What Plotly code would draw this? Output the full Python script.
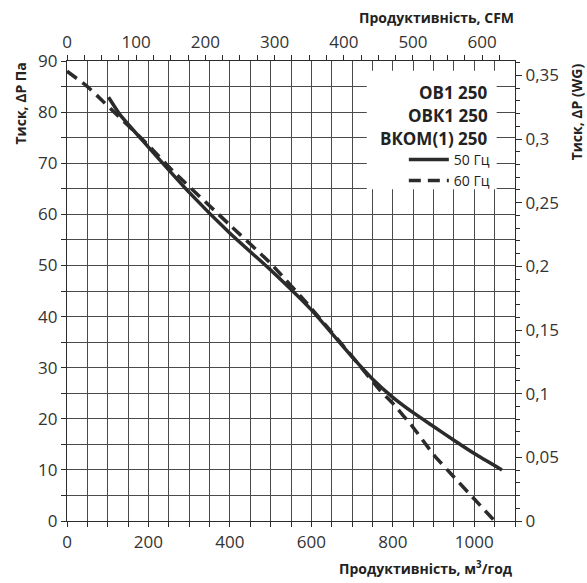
import plotly.graph_objects as go

# air flow (m3/h) and pressure (Pa)
flow_50hz = [102, 131, 196, 300, 400, 500, 600, 700, 750, 800, 850, 900, 950, 1000, 1068]
pres_50hz = [82.9, 79.4, 73.5, 64.3, 56.3, 49.1, 41.3, 32.1, 27.8, 24.2, 21.2, 18.5, 15.8, 13.2, 10.0]

flow_60hz = [0, 50, 90, 125, 200, 260, 400, 500, 600, 700, 768, 800, 850, 900, 950, 1000, 1050]
pres_60hz = [88.0, 85.0, 82.0, 79.3, 73.5, 68.5, 57.9, 50.4, 41.6, 32.2, 25.6, 23.0, 18.3, 13.0, 8.6, 4.3, 0.0]

models = ['ОВ1 250', 'ОВК1 250', 'ВКОМ(1) 250']
series_names = ['50 Гц', '60 Гц']

m3h_ticks = [0, 200, 400, 600, 800, 1000]
cfm_ticks = [0, 100, 200, 300, 400, 500, 600]
pa_ticks = [0, 10, 20, 30, 40, 50, 60, 70, 80, 90]
wg_ticks = [0, 0.05, 0.1, 0.15, 0.2, 0.25, 0.3, 0.35]
wg_labels = ['0', '0,05', '0,1', '0,15', '0,2', '0,25', '0,3', '0,35']

M3H_PER_CFM = 1.69901
PA_PER_WG = 249.089
X_MAX = 1100
Y_MAX = 90

INK = '#2b2b2b'
GRID = '#4a4a4a'
FONT = 'Open Sans'

fig = go.Figure()

fig.add_trace(go.Scatter(x=flow_50hz, y=pres_50hz, mode='lines', name=series_names[0],
                         line=dict(color=INK, width=3.5, shape='spline', smoothing=0.5)))
fig.add_trace(go.Scatter(x=flow_60hz, y=pres_60hz, mode='lines', name=series_names[1],
                         line=dict(color=INK, width=3.5, dash='12px,7px', shape='spline', smoothing=0.5)))

# invisible trace so the CFM / WG axes get drawn
fig.add_trace(go.Scatter(x=[q / M3H_PER_CFM for q in flow_60hz],
                         y=[p / PA_PER_WG for p in pres_60hz],
                         xaxis='x2', yaxis='y2', mode='lines', opacity=0,
                         showlegend=False, hoverinfo='skip'))

tick_font = dict(family=FONT, size=17, color='#333')
title_font = dict(family=FONT, size=14, color='#222', weight='bold')

fig.update_layout(
    width=587, height=583,
    margin=dict(l=67, r=72, t=61, b=62),
    plot_bgcolor='white', paper_bgcolor='white',
    font=dict(family=FONT, color='#222'),
    xaxis=dict(range=[0, X_MAX], tickvals=m3h_ticks, tickfont=tick_font,
               ticks='outside', ticklen=5, tickcolor=INK,
               showgrid=True, gridcolor=GRID, gridwidth=1,
               minor=dict(dtick=50, ticks='outside', ticklen=5, tickcolor=INK,
                          showgrid=True, gridcolor=GRID, gridwidth=1),
               showline=True, linecolor=INK, linewidth=1.2, mirror=True,
               zeroline=False, fixedrange=True, automargin=False),
    yaxis=dict(range=[0, Y_MAX], tickvals=pa_ticks, tickfont=tick_font,
               ticks='outside', ticklen=5, tickcolor=INK,
               showgrid=True, gridcolor=GRID, gridwidth=1,
               minor=dict(dtick=5, ticks='outside', ticklen=5, tickcolor=INK,
                          showgrid=True, gridcolor=GRID, gridwidth=1),
               showline=True, linecolor=INK, linewidth=1.2, mirror=True,
               zeroline=False, fixedrange=True, automargin=False),
    xaxis2=dict(overlaying='x', side='top', anchor='y',
                range=[0, X_MAX / M3H_PER_CFM], tickvals=cfm_ticks, tickfont=tick_font,
                ticks='outside', ticklen=5, tickcolor=INK,
                minor=dict(dtick=25, ticks='outside', ticklen=5, tickcolor=INK, showgrid=False),
                showgrid=False, showline=True, linecolor=INK, linewidth=1.2,
                zeroline=False, fixedrange=True, automargin=False),
    yaxis2=dict(overlaying='y', side='right', anchor='x',
                range=[0, Y_MAX / PA_PER_WG], tickvals=wg_ticks, ticktext=wg_labels,
                tickfont=tick_font, ticks='outside', ticklen=6, tickcolor=INK,
                minor=dict(dtick=0.01, ticks='outside', ticklen=4, tickcolor=INK, showgrid=False),
                showgrid=False, showline=True, linecolor=INK, linewidth=1.2,
                zeroline=False, fixedrange=True, automargin=False),
    legend=dict(x=0.955, xanchor='right', y=0.82, yanchor='top',
                bgcolor='rgba(0,0,0,0)', font=dict(family=FONT, size=14, color='#222'),
                tracegroupgap=0, itemwidth=40),
    showlegend=True,
)

# white panel behind the legend block
fig.add_shape(type='rect', xref='x', yref='y', x0=736, x1=1055, y0=64.9, y1=88.1,
              fillcolor='white', line=dict(width=0), layer='above')

for i, label in enumerate(models):
    fig.add_annotation(text=label, xref='paper', yref='paper', x=0.944, y=0.9326 - 0.05 * i,
                       xanchor='right', yanchor='middle', showarrow=False,
                       font=dict(family=FONT, size=17, color='#222', weight='bold'))

fig.add_annotation(text='Продуктивність, CFM', xref='paper', yref='paper', x=1.003, y=1.0935,
                   xanchor='right', yanchor='middle', showarrow=False, font=title_font)
fig.add_annotation(text='Продуктивність, м<sup>3</sup>/год', xref='paper', yref='paper',
                   x=1.001, y=-0.102, xanchor='right', yanchor='middle', showarrow=False,
                   font=title_font)
fig.add_annotation(text='Тиск, ΔP Па', xref='paper', yref='paper', x=-0.106, y=1.0,
                   xanchor='center', yanchor='top', textangle=-90, showarrow=False,
                   font=title_font)
fig.add_annotation(text='Тиск, ΔP (WG)', xref='paper', yref='paper', x=1.138, y=1.0,
                   xanchor='center', yanchor='top', textangle=-90, showarrow=False,
                   font=title_font)

# drop the default page margin so the figure sits at the window corner
fig.write_html("out.html", config={'displayModeBar': False},
               post_script="document.body.style.margin='0';")
